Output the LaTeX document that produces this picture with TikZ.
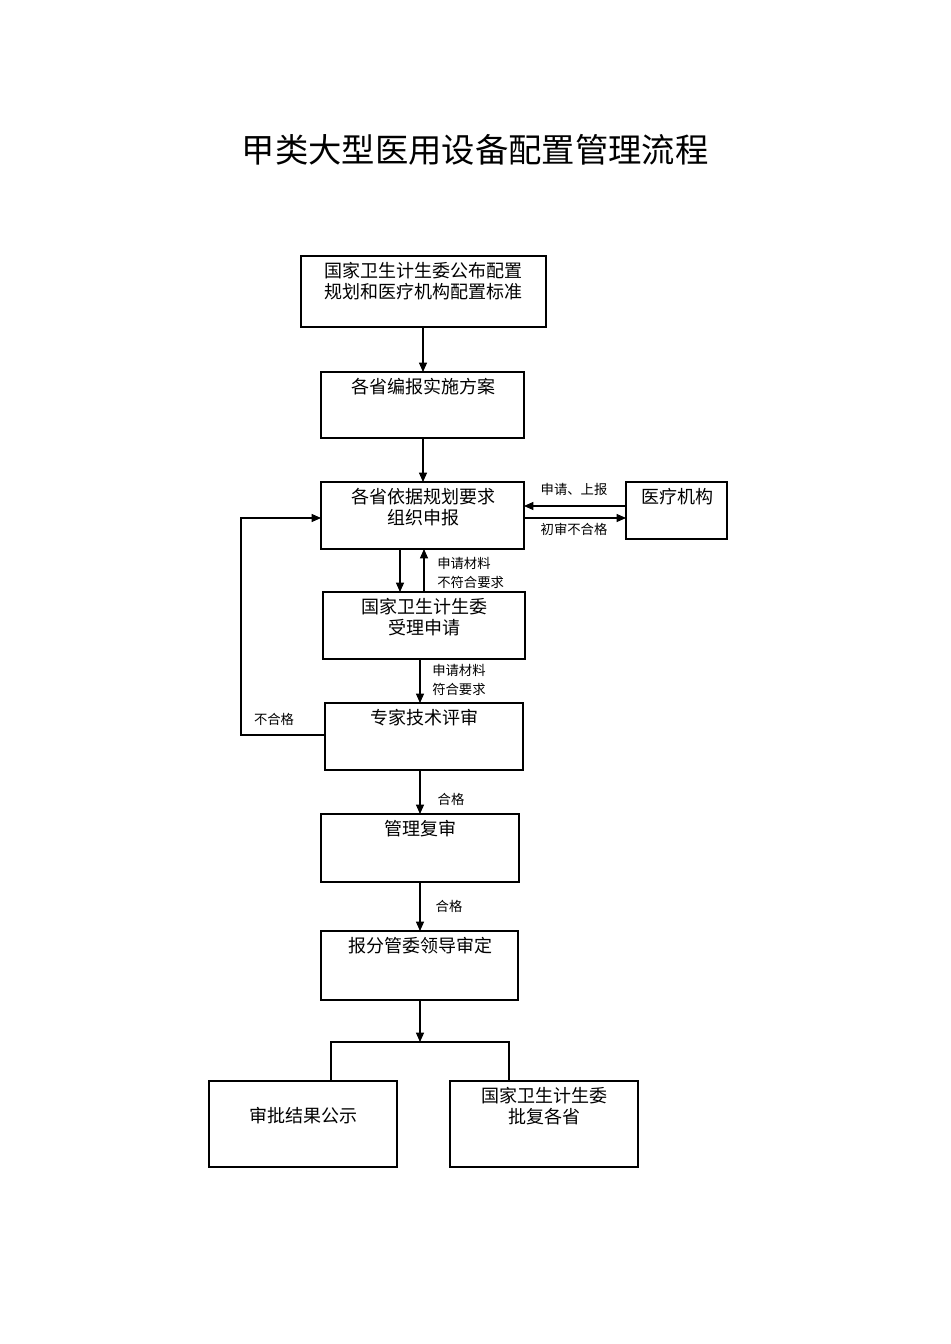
\documentclass[tikz,border=0pt]{standalone}
\usepackage{fontspec}
\setmainfont{Noto Sans CJK SC}
\usetikzlibrary{arrows.meta}
\begin{document}
\begin{tikzpicture}[x=0.75pt,y=-0.75pt,
 box/.style={draw,line width=0.9pt},
 btxt/.style={font=\fontsize{13.5}{15.5}\selectfont,align=center,inner sep=0pt},
 lbl/.style={font=\fontsize{10}{14.5}\selectfont,align=left,inner sep=0pt},
 arr/.style={-{Triangle[length=7pt,width=6pt]},line width=0.8pt},
 ln/.style={line width=0.8pt}]
\useasboundingbox (0,0) rectangle (950,1344);
\node[font=\fontsize{25}{30}\selectfont] (title) at (475,150) {甲类大型医用设备配置管理流程};
\draw[box] (301,256) rectangle (546,327); \coordinate (b1) at (423,327);
\node[btxt,anchor=north] (t1) at (423,262) {国家卫生计生委公布配置\\规划和医疗机构配置标准};
\draw[box] (321,372) rectangle (524,438);
\node[btxt,anchor=north] (t2) at (423,378) {各省编报实施方案};
\draw[box] (321,482) rectangle (524,549);
\node[btxt,anchor=north] (t3) at (423,488) {各省依据规划要求\\组织申报};
\draw[box] (626,482) rectangle (727,539);
\node[btxt,anchor=north] (t4) at (677,488) {医疗机构};
\draw[box] (323,592) rectangle (525,659);
\node[btxt,anchor=north] (t5) at (424,598) {国家卫生计生委\\受理申请};
\draw[box] (325,703) rectangle (523,770);
\node[btxt,anchor=north] (t6) at (424,709) {专家技术评审};
\draw[box] (321,814) rectangle (519,882);
\node[btxt,anchor=north] (t7) at (420,820) {管理复审};
\draw[box] (321,931) rectangle (518,1000);
\node[btxt,anchor=north] (t8) at (420,937) {报分管委领导审定};
\draw[box] (209,1081) rectangle (397,1167);
\node[btxt] (t9) at (303,1116) {审批结果公示};
\draw[box] (450,1081) rectangle (638,1167);
\node[btxt,anchor=north] (t10) at (544,1087) {国家卫生计生委\\批复各省};
\coordinate (a1) at (423,327); \coordinate (a2) at (423,372);
\draw[arr] (a1) -- (a2);
\coordinate (a3) at (423,438); \coordinate (a4) at (423,482);
\draw[arr] (a3) -- (a4);
\coordinate (c1) at (626,506); \coordinate (c2) at (524,506);
\draw[arr] (c1) -- (c2);
\coordinate (c3) at (524,518); \coordinate (c4) at (626,518);
\draw[arr] (c3) -- (c4);
\node[lbl] (l1) at (574,489) {申请、上报};
\node[lbl] (l2) at (574,529) {初审不合格};
\coordinate (d1) at (400,549); \coordinate (d2) at (400,592);
\draw[arr] (d1) -- (d2);
\coordinate (d3) at (424,592); \coordinate (d4) at (424,549);
\draw[arr] (d3) -- (d4);
\node[lbl,anchor=west] (l3) at (437,573) {申请材料\\不符合要求};
\coordinate (e1) at (420,659); \coordinate (e2) at (420,703);
\draw[arr] (e1) -- (e2);
\node[lbl,anchor=west] (l4) at (432,680) {申请材料\\符合要求};
\coordinate (f1) at (325,735); \coordinate (f2) at (321,518);
\draw[arr] (f1) -- (241,735) -- (241,518) -- (f2);
\node[lbl] (l5) at (274,719) {不合格};
\coordinate (g1) at (420,770); \coordinate (g2) at (420,814);
\draw[arr] (g1) -- (g2);
\node[lbl] (l6) at (451,799) {合格};
\coordinate (h1) at (420,882); \coordinate (h2) at (420,931);
\draw[arr] (h1) -- (h2);
\node[lbl] (l7) at (449,906) {合格};
\coordinate (k1) at (420,1000); \coordinate (k2) at (420,1042);
\draw[arr] (k1) -- (k2);
\draw[ln] (331,1081) -- (331,1042) -- (509,1042) -- (509,1081);
\end{tikzpicture}
\end{document}
